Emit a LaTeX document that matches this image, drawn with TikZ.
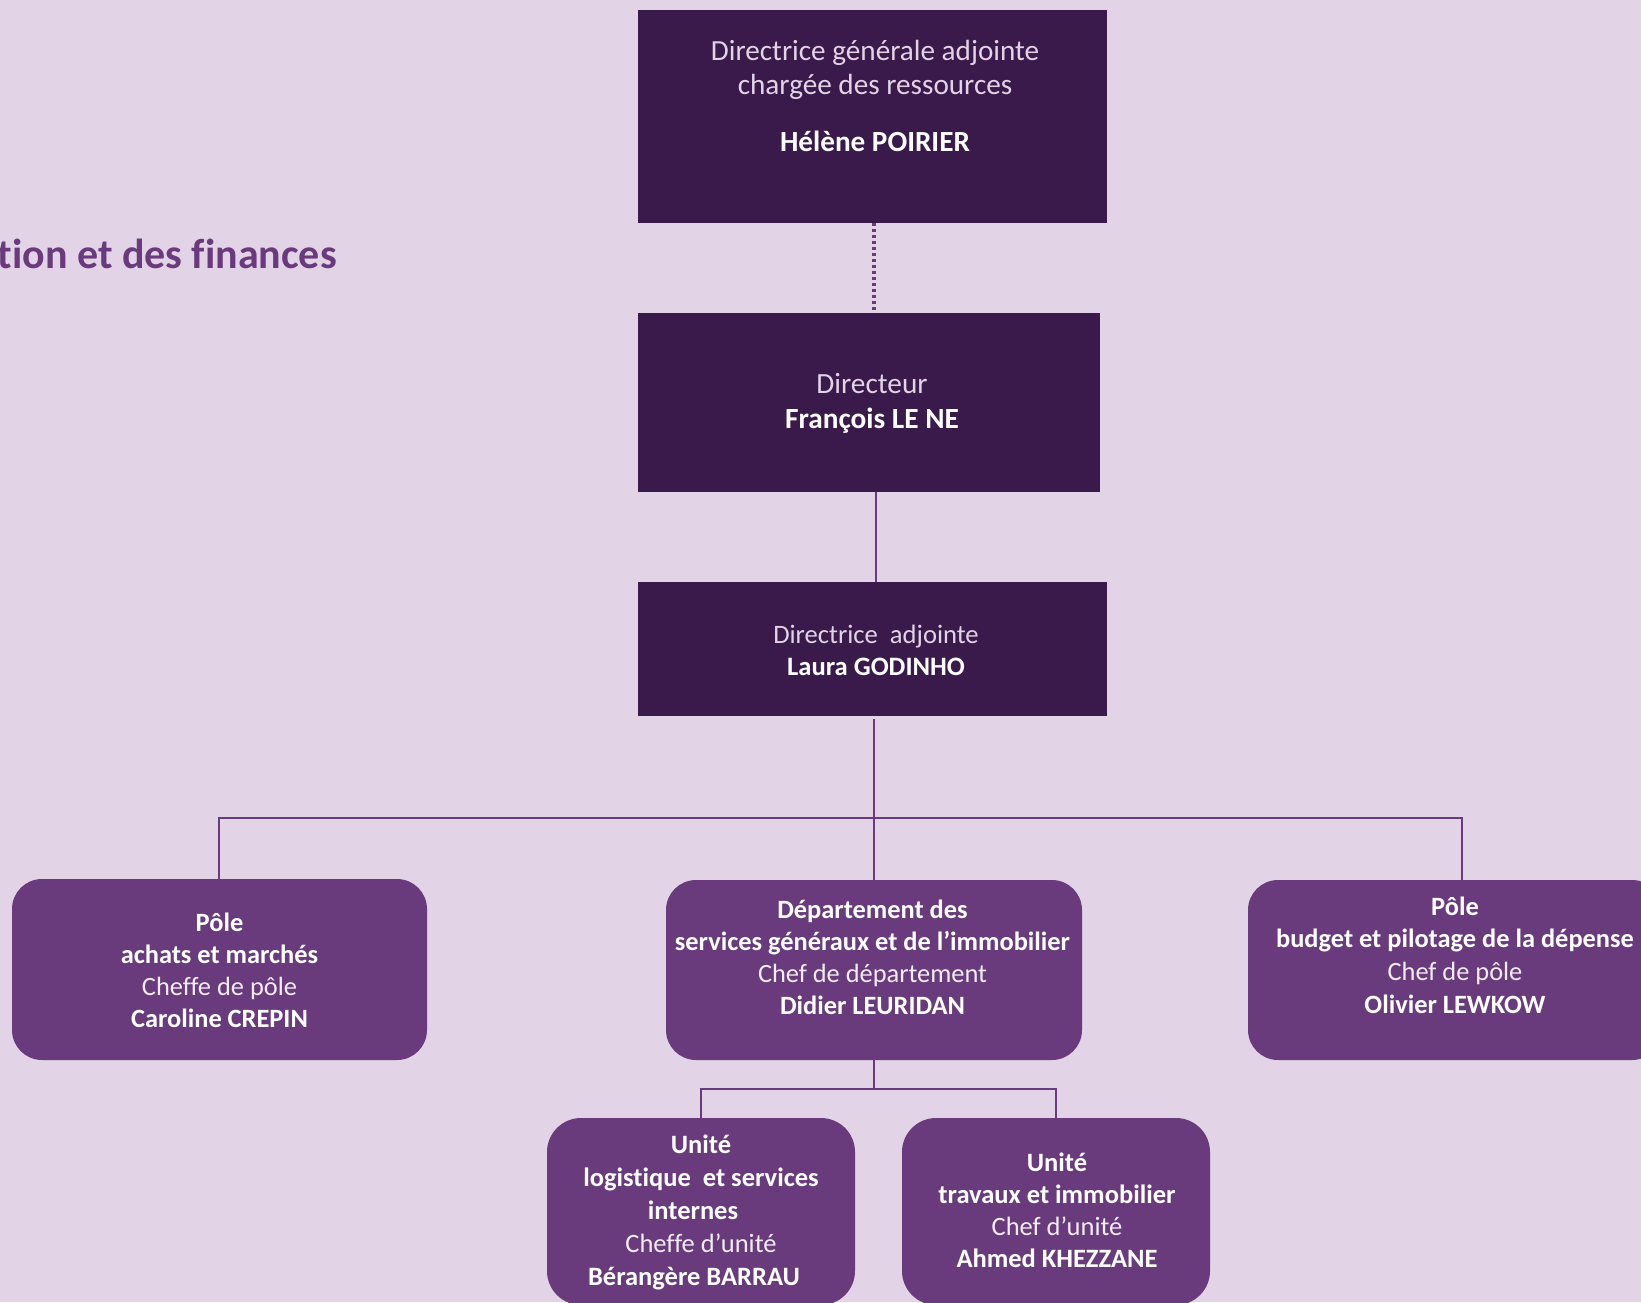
\documentclass[tikz,border=0pt]{standalone}
\usepackage{fontspec}
\setmainfont{Carlito}[Ligatures=NoCommon]
\definecolor{bg}{HTML}{E2D3E7}
\definecolor{darkp}{HTML}{391A4B}
\definecolor{midp}{HTML}{693B7D}
\definecolor{pale}{HTML}{E2D3E7}
\definecolor{softw}{HTML}{F3ECF5}
\begin{document}
\begin{tikzpicture}[x=1pt,y=-1pt,
  darkbox/.style={draw=none,fill=darkp,rectangle,inner sep=0pt},
  midbox/.style={draw=none,fill=midp,rectangle,rounded corners=30pt,inner sep=0pt},
  conn/.style={draw=midp,line width=2pt},
  dotconn/.style={draw=midp,line width=3.5pt,dash pattern=on 3pt off 3pt},
  btxt/.style={align=center,text=white,inner sep=0pt,anchor=center},
]
\useasboundingbox (0,0) rectangle (1641,1302);
\fill[bg] (0,0) rectangle (1641,1302);
\clip (0,0) rectangle (1641,1302);

% title fragment
\node[anchor=base east,inner sep=0pt,text=midp,font=\fontsize{42}{45}\selectfont\bfseries] (title) at (337,268) {tion et des finances};

% boxes
\node[darkbox,minimum width=469pt,minimum height=213pt] (dga) at (872.5,116.5) {};
\node[darkbox,minimum width=462pt,minimum height=179pt] (dir) at (869,402.5) {};
\node[darkbox,minimum width=469pt,minimum height=134pt] (adj) at (872.5,649) {};
\node[midbox,minimum width=415pt,minimum height=181pt] (achats) at (219.5,969.5) {};
\node[midbox,minimum width=416pt,minimum height=180pt] (dsgi) at (874,970) {};
\node[midbox,minimum width=414pt,minimum height=180pt] (budget) at (1455,970) {};
\node[midbox,rounded corners=34pt,minimum width=308pt,minimum height=187pt] (ulog) at (701,1211.5) {};
\node[midbox,rounded corners=34pt,minimum width=308pt,minimum height=187pt] (utrav) at (1056,1211.5) {};

% texts
\node[btxt,font=\fontsize{29.2}{34}\selectfont] (t1) at (875,96)
  {\textcolor{pale}{Directrice générale adjointe}\\\textcolor{pale}{chargée des ressources}\\[23pt]\textbf{Hélène POIRIER}};
\node[btxt,font=\fontsize{29.3}{35}\selectfont] (t2) at (872,403)
  {\textcolor{pale}{Directeur}\\\textbf{François LE NE}};
\node[btxt,font=\fontsize{26.6}{32}\selectfont] (t3) at (876,650)
  {\textcolor{pale}{Directrice~ adjointe}\\\textbf{Laura GODINHO}};
\node[btxt,font=\fontsize{26.4}{32}\selectfont] (t4) at (219.5,970.5)
  {\textbf{Pôle}\\\textbf{achats et marchés}\\\textcolor{softw}{Cheffe de pôle}\\\textbf{Caroline CREPIN}};
\node[btxt,font=\fontsize{26.4}{32}\selectfont] (t5) at (872.5,957)
  {\textbf{Département des}\\\textbf{services généraux et de l’immobilier}\\\textcolor{softw}{Chef de département}\\\textbf{Didier LEURIDAN}};
\node[btxt,font=\fontsize{26.4}{32.7}\selectfont] (t6) at (1455,955)
  {\textbf{Pôle}\\\textbf{budget et pilotage de la dépense}\\\textcolor{softw}{Chef de pôle}\\\textbf{Olivier LEWKOW}};
\node[btxt,font=\fontsize{26.5}{33.2}\selectfont] (t7) at (701,1212.5)
  {\textbf{Unité}\\\textbf{logistique~ et services}\\\textbf{internes}\rule{16pt}{0pt}\\\textcolor{softw}{Cheffe d’unité}\\\textbf{Bérangère BARRAU}\rule{14pt}{0pt}};
\node[btxt,font=\fontsize{26.5}{32}\selectfont] (t8) at (1057,1210.5)
  {\textbf{Unité}\\\textbf{travaux et immobilier}\\\textcolor{softw}{Chef d’unité}\\\textbf{Ahmed KHEZZANE}};

% connectors
\coordinate (busM) at (874,818);
\coordinate (busL) at (219,818);
\coordinate (busR) at (1462,818);
\coordinate (ubus) at (874,1089);

\draw[dotconn] ([xshift=1.5pt]dga.south) -- ([xshift=1.5pt]dga.south |- dir.north);
\draw[conn] ([xshift=3.5pt]adj.north |- dir.south) -- ([xshift=3.5pt]adj.north);
\draw[conn] ([xshift=1.5pt,yshift=-3pt]adj.south) -- (busM) -- (dsgi.north);
\draw[conn] (busL |- achats.north) -- (busL) -- (busR) -- (busR |- budget.north);
\draw[conn] (dsgi.south) -- (ubus);
\draw[conn] (ulog.north) -- (ulog.north |- ubus) -- (utrav.north |- ubus) -- (utrav.north);
\end{tikzpicture}
\end{document}
